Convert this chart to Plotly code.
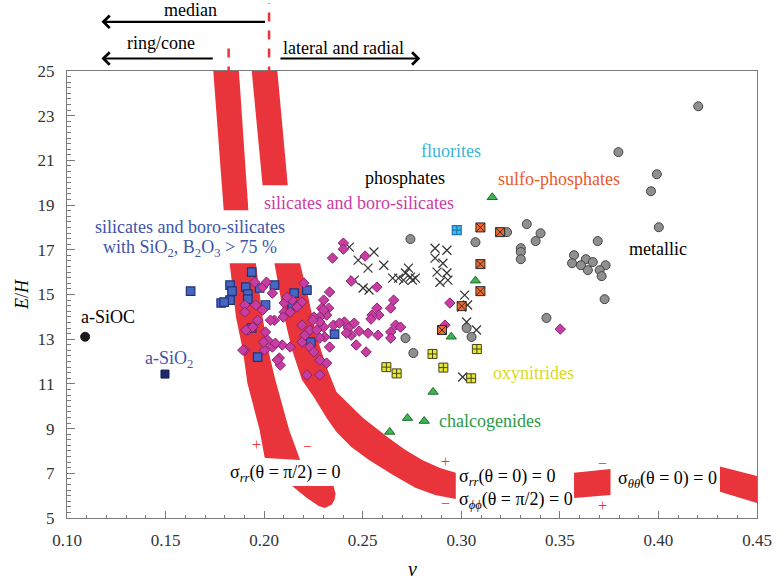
import plotly.graph_objects as go

RED = "#e8343a"
FONT = "Liberation Serif, Times New Roman, serif"

# ---------------- data ----------------
siloc_x = [0.1092]; siloc_y = [13.11]
sio2_x = [0.1497]; sio2_y = [11.44]

blue_x = [0.1627, 0.1937, 0.1827, 0.1837, 0.1782, 0.1827, 0.1907, 0.1917, 0.1917, 0.2007,
          0.2052, 0.2152, 0.2142, 0.2217, 0.1937, 0.1967, 0.2237, 0.2357, 0.1797, 0.1977]
blue_y = [15.15, 16.00, 15.42, 15.15, 14.62, 14.75, 15.33, 15.02, 14.79, 14.53,
          15.42, 15.06, 14.53, 15.20, 13.50, 12.20, 12.87, 13.23, 14.66, 15.29]

mag_x = [0.2402, 0.2402, 0.2347, 0.2512, 0.2442, 0.2572, 0.2657, 0.2642, 0.2572, 0.2582,
         0.2547, 0.2542, 0.2667, 0.2692, 0.2642, 0.2642, 0.2577, 0.2527, 0.2482, 0.2457,
         0.2407, 0.2427, 0.2442, 0.2467, 0.2517, 0.2332, 0.2302, 0.2292, 0.2327, 0.2317,
         0.2282, 0.2302, 0.2352, 0.2307, 0.2332, 0.2282, 0.2317, 0.2942, 0.2917, 0.3502,
         0.1952, 0.1992, 0.2012, 0.2042, 0.1902, 0.1902, 0.1957, 0.1992, 0.1967, 0.1917,
         0.1942, 0.2007, 0.2017, 0.2002, 0.2042, 0.1902, 0.2052, 0.2102, 0.2102, 0.2142,
         0.2117, 0.2192, 0.2202, 0.2092, 0.2132, 0.2077, 0.2082, 0.2192, 0.2192, 0.2207,
         0.2232, 0.2252, 0.2282, 0.2232, 0.2252, 0.2282, 0.2217, 0.2282, 0.2302, 0.2167,
         0.2132, 0.2267, 0.2382, 0.2417, 0.2247, 0.2067, 0.2032, 0.1997, 0.1907, 0.1892,
         0.2097, 0.2057]
mag_y = [17.30, 17.03, 16.63, 16.72, 15.60, 15.33, 14.75, 14.39, 14.39, 14.08,
         14.08, 13.90, 13.63, 13.54, 13.32, 13.05, 13.18, 13.27, 13.36, 13.72,
         13.77, 13.50, 13.18, 12.74, 12.43, 15.11, 14.75, 14.39, 14.39, 14.08,
         13.99, 13.54, 13.63, 13.10, 12.65, 13.05, 11.93, 14.62, 13.63, 13.45,
         15.55, 15.33, 15.55, 15.06, 14.53, 14.21, 14.53, 14.30, 13.85, 13.41,
         13.54, 13.32, 12.96, 12.51, 12.65, 12.51, 13.85, 14.21, 14.62, 14.75,
         14.88, 14.66, 15.51, 12.74, 12.65, 12.16, 11.84, 12.87, 13.63, 13.18,
         13.41, 13.99, 13.77, 12.65, 12.43, 12.07, 11.40, 11.40, 14.30, 14.44,
         14.21, 13.41, 13.72, 13.27, 13.85, 12.07, 13.85, 12.87, 13.41, 12.51,
         13.99, 12.82]

phos_x = [0.2432, 0.2477, 0.2557, 0.2527, 0.2607, 0.2457, 0.2502, 0.2532, 0.2652, 0.2682,
          0.2717, 0.2732, 0.2742, 0.2752, 0.2767, 0.2707, 0.2867, 0.2927, 0.2867, 0.2907,
          0.2877, 0.2927, 0.2892, 0.2932, 0.3017, 0.3032, 0.3002, 0.3027, 0.3077, 0.3007]
phos_y = [17.12, 16.54, 16.90, 16.18, 16.31, 15.64, 15.29, 15.20, 15.73, 15.73,
          15.96, 16.18, 15.78, 15.64, 15.73, 15.64, 17.07, 16.98, 16.63, 16.40,
          16.00, 15.96, 15.55, 15.64, 14.97, 14.53, 14.44, 13.77, 13.41, 11.31]

metal_x = [0.4202, 0.3797, 0.3992, 0.3962, 0.4002, 0.2742, 0.3072, 0.3232, 0.3332, 0.3402,
           0.3377, 0.3302, 0.3302, 0.3302, 0.3572, 0.3562, 0.3632, 0.3667, 0.3642, 0.3607,
           0.3692, 0.3732, 0.3702, 0.3712, 0.3727, 0.3432, 0.3027, 0.3052, 0.2717, 0.2757]
metal_y = [23.42, 21.37, 20.38, 19.62, 18.01, 17.48, 17.34, 17.79, 18.15, 17.74,
           17.39, 17.07, 16.90, 16.58, 16.76, 16.40, 16.58, 16.45, 16.09, 16.31,
           17.39, 16.31, 16.09, 15.82, 14.79, 13.95, 13.50, 13.10, 13.05, 12.38]

sulfo_x = [0.3097, 0.3197, 0.3097, 0.3097, 0.3002, 0.2902]
sulfo_y = [18.00, 17.79, 16.36, 15.15, 14.48, 13.41]

fluor_x = [0.2977]; fluor_y = [17.88]

chalc_x = [0.3157, 0.3072, 0.2949, 0.2857, 0.2727, 0.2812, 0.2637]
chalc_y = [19.35, 15.62, 13.11, 10.64, 9.47, 9.34, 8.85]

oxy_x = [0.2854, 0.3079, 0.2909, 0.2620, 0.2672, 0.3050]
oxy_y = [12.34, 12.56, 11.73, 11.75, 11.47, 11.25]

# zero-stress bands (outline vertices in data units)
band1a_x = [0.1742, 0.1872, 0.1920, 0.1795]
band1a_y = [25.0, 25.0, 18.77, 18.77]
band1b_x = [0.1825, 0.1857, 0.1892, 0.1915, 0.1977, 0.2002, 0.2007, 0.2182, 0.2177,
            0.2127, 0.2057, 0.2017, 0.1992, 0.1958]
band1b_y = [16.40, 13.99, 12.51, 11.04, 8.94, 7.73, 7.69, 7.60, 7.73,
            8.94, 11.17, 12.65, 13.99, 16.40]
band1c_x = [0.2142, 0.2352, 0.2362, 0.2357, 0.2342, 0.2307, 0.2277, 0.2217]
band1c_y = [6.43, 6.43, 6.08, 5.81, 5.59, 5.45, 5.54, 5.90]
band2a_x = [0.1937, 0.2067, 0.2120, 0.1992]
band2a_y = [25.0, 25.0, 19.89, 19.89]
band2b_x = [0.2182, 0.2227, 0.2267, 0.2317, 0.2367, 0.2442, 0.2502, 0.2567, 0.2632, 0.2717,
            0.2802, 0.2892, 0.2972, 0.2972, 0.2867, 0.2767, 0.2652, 0.2532, 0.2442, 0.2367,
            0.2317, 0.2252, 0.2192, 0.2142, 0.2102, 0.2052]
band2b_y = [16.40, 14.75, 13.10, 11.75, 10.64, 9.97, 9.47, 9.03, 8.58, 8.04,
            7.60, 7.24, 7.02, 5.85, 6.03, 6.35, 6.93, 7.60, 8.18, 8.85,
            9.47, 10.41, 11.17, 12.51, 13.99, 16.40]
band3a_x = [0.3572, 0.3757, 0.3757, 0.3572]
band3a_y = [7.03, 7.19, 6.03, 5.90]
band3b_x = [0.4312, 0.45, 0.45, 0.4312]
band3b_y = [7.30, 6.88, 5.67, 6.18]

x_ticks = [0.10, 0.15, 0.20, 0.25, 0.30, 0.35, 0.40, 0.45]
y_ticks = [5, 7, 9, 11, 13, 15, 17, 19, 21, 23, 25]

ring_cone_nu = 0.182
median_nu = 0.2025

# ---------------- figure ----------------
fig = go.Figure()

for bx, by in [(band1a_x, band1a_y), (band1b_x, band1b_y), (band1c_x, band1c_y),
               (band2a_x, band2a_y), (band2b_x, band2b_y),
               (band3a_x, band3a_y), (band3b_x, band3b_y)]:
    fig.add_trace(go.Scatter(x=bx, y=by, mode="lines", fill="toself", fillcolor=RED,
                             line=dict(width=0, color=RED), hoverinfo="skip"))

def pts(x, y, symbol, size, fill, lc, lw=1.0):
    fig.add_trace(go.Scatter(x=x, y=y, mode="markers",
                             marker=dict(symbol=symbol, size=size, color=fill,
                                         line=dict(color=lc, width=lw))))

pts(phos_x, phos_y, "x-thin-open", 9, "#333333", "#333333", 1.2)
pts(metal_x, metal_y, "circle", 9, "#8f8f8f", "#444444", 1.0)
pts(blue_x, blue_y, "square", 8.5, "#4567c2", "#23307a", 1.2)
pts(mag_x, mag_y, "diamond", 8, "#c93da3", "#86256f", 1.0)
pts(sulfo_x, sulfo_y, "square-x", 9, "#f26a2e", "#2a2a2a", 1.0)
pts(fluor_x, fluor_y, "square-cross", 9, "#3bbbe6", "#1d76b8", 1.2)
pts(oxy_x, oxy_y, "square-cross", 9, "#e8e82e", "#444422", 1.0)
pts(chalc_x, chalc_y, "triangle-up", 9, "#3db550", "#1e6b2e", 1.0)
pts(siloc_x, siloc_y, "circle", 9, "#1a1a1a", "#1a1a1a", 1.0)
pts(sio2_x, sio2_y, "square", 8, "#1f2a6e", "#141c50", 1.0)

anns = []
def txt(x, y, s, color="black", size=18, xanchor="center", xref="x", yref="y", angle=0):
    anns.append(dict(x=x, y=y, xref=xref, yref=yref, text=s, showarrow=False,
                     xanchor=xanchor, yanchor="middle", textangle=angle,
                     font=dict(family=FONT, size=size, color=color)))

txt(0.295, 21.41, "fluorites", "#38b6d9")
txt(0.2717, 20.20, "phosphates", "black")
txt(0.3497, 20.16, "sulfo-phosphates", "#e95a2c")
txt(0.2482, 19.09, "silicates and boro-silicates", "#c93da3")
txt(0.1624, 18.03, "silicates and boro-silicates", "#3d55a8")
txt(0.1625, 17.06, "with SiO<sub>2</sub>, B<sub>2</sub>O<sub>3</sub> > 75 %", "#3d55a8")
txt(0.1207, 14.00, "a-SiOC", "black")
txt(0.1517, 12.10, "a-SiO<sub>2</sub>", "#3d55a8")
txt(0.3997, 17.04, "metallic", "black")
txt(0.315, 11.49, "oxynitrides", "#d9d925", xanchor="left")
txt(0.2875, 9.35, "chalcogenides", "#2e9a48", xanchor="left")

txt(0.2107, 6.98, "σ<sub><i>rr</i></sub>(θ = π/2) = 0", "black")
txt(0.2977, 6.79, "σ<sub><i>rr</i></sub>(θ = 0) = 0", "black", xanchor="left")
txt(0.2977, 5.80, "σ<sub><i>ϕϕ</i></sub>(θ = π/2) = 0", "black", xanchor="left")
txt(0.3787, 6.74, "σ<sub><i>θθ</i></sub>(θ = 0) = 0", "black", xanchor="left")

for sx, sy, s in [(0.1962, 8.31, "+"), (0.2222, 8.22, "−"), (0.2922, 7.51, "+"),
                  (0.2922, 5.67, "−"), (0.3717, 7.42, "−"), (0.3717, 5.54, "+")]:
    txt(sx, sy, s, RED, size=16)

# top labels and arrows (above the plot area, paper y)
txt(0.1627, 1.136, "median", "black", yref="paper")
txt(0.1475, 1.062, "ring/cone", "black", yref="paper")
txt(0.24, 1.052, "lateral and radial", "black", yref="paper")
for hx, tx, yy in [(0.1175, 0.2012, 1.110), (0.1175, 0.1747, 1.028), (0.2792, 0.2075, 1.028)]:
    anns.append(dict(x=hx, y=yy, ax=tx, ay=0, xref="x", yref="paper", axref="x", ayref="pixel",
                     showarrow=True, arrowhead=4, arrowsize=1.1, arrowwidth=2.2,
                     arrowcolor="black", text=""))

# axis titles
txt(0.5, -0.114, "<i>ν</i>", "black", size=20, xref="paper", yref="paper")
txt(-0.066, 0.5, "<i>E</i>/<i>H</i>", "black", size=18, xref="paper", yref="paper", angle=-90)

shapes = [
    dict(type="line", xref="x", yref="paper", x0=median_nu, x1=median_nu, y0=0.99, y1=1.152,
         line=dict(color=RED, width=2.5, dash="dash")),
    dict(type="line", xref="x", yref="paper", x0=ring_cone_nu, x1=ring_cone_nu, y0=0.99, y1=1.058,
         line=dict(color=RED, width=2.5, dash="dash")),
]

axcol = "#7a7a7a"
fig.update_layout(
    width=784, height=580, showlegend=False,
    margin=dict(l=67, r=17, t=71, b=62),
    paper_bgcolor="white", plot_bgcolor="white",
    font=dict(family=FONT, size=17, color="#333333"),
    annotations=anns, shapes=shapes,
    xaxis=dict(range=[0.10, 0.45], tickvals=x_ticks, tickformat=".2f",
               ticks="inside", ticklen=7, tickwidth=1, tickcolor=axcol,
               showline=True, linecolor=axcol, linewidth=1.2, mirror=True,
               showgrid=False, zeroline=False, ticklabelstandoff=6,
               tickfont=dict(family=FONT, size=17, color="#333333"),
               minor=dict(dtick=0.01, ticks="inside", ticklen=3.5, tickcolor=axcol, showgrid=False)),
    yaxis=dict(range=[5, 25], tickvals=y_ticks,
               ticks="inside", ticklen=8, tickwidth=1, tickcolor=axcol,
               showline=True, linecolor=axcol, linewidth=1.2, mirror=True,
               showgrid=False, zeroline=False, ticklabelstandoff=8,
               tickfont=dict(family=FONT, size=17, color="#333333"),
               minor=dict(dtick=0.25, tick0=5, ticks="inside", ticklen=4, tickcolor=axcol, showgrid=False)),
)

fig.write_html("out.html", config={"displayModeBar": False, "staticPlot": True},
               post_script="document.body.style.margin='0';document.body.style.overflow='hidden';")
